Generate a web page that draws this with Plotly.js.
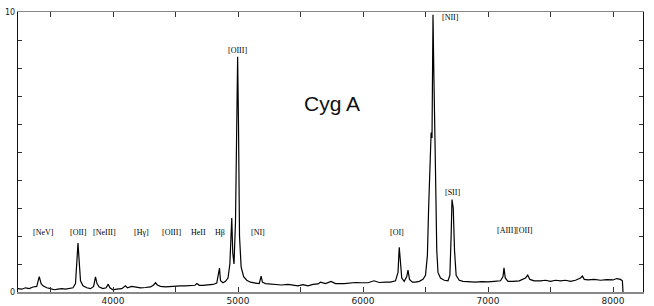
<!DOCTYPE html>
<html>
<head>
<meta charset="utf-8">
<script src="https://cdn.plot.ly/plotly-3.0.1.min.js"></script>
<style>html,body{margin:0;padding:0;background:#fff}#chart{width:654px;height:306px}</style>
</head>
<body>
<div id="chart"></div>
<script>
// Wavelength (Angstrom) and relative flux
const wavelength = [3240,3270,3300,3330,3360,3390,3410,3425,3440,3470,3500,3530,3560,3590,3620,3650,3680,3700,3712,3720,3728,3740,3760,3790,3820,3845,3860,3872,3890,3920,3945,3962,3975,4000,4030,4070,4100,4115,4150,4180,4220,4260,4300,4325,4340,4355,4380,4420,4460,4500,4540,4580,4620,4655,4672,4690,4720,4760,4800,4830,4845,4852,4860,4880,4900,4920,4935,4945,4950,4958,4968,4980,4990,4997,5004,5012,5025,5045,5070,5100,5140,5170,5185,5195,5220,5260,5300,5350,5400,5440,5480,5520,5560,5600,5640,5660,5700,5744,5780,5850,5900,5940,5990,6040,6088,6130,6180,6220,6260,6280,6290,6298,6310,6330,6350,6360,6372,6395,6420,6450,6480,6500,6515,6525,6535,6545,6552,6560,6566,6572,6580,6590,6600,6620,6650,6680,6695,6705,6712,6722,6732,6745,6770,6800,6850,6900,6950,7000,7050,7100,7120,7128,7138,7160,7200,7250,7300,7318,7335,7370,7420,7460,7500,7540,7580,7620,7660,7700,7740,7755,7770,7800,7850,7900,7950,8000,8030,8060,8075,8080];
const flux = [0.12,0.10,0.15,0.12,0.18,0.20,0.55,0.30,0.22,0.15,0.12,0.08,0.10,0.12,0.10,0.12,0.15,0.30,1.0,1.75,1.2,0.40,0.22,0.15,0.12,0.20,0.54,0.30,0.18,0.12,0.15,0.28,0.15,0.08,0.10,0.12,0.22,0.15,0.20,0.18,0.15,0.16,0.18,0.25,0.33,0.25,0.20,0.18,0.20,0.20,0.22,0.22,0.22,0.24,0.30,0.24,0.24,0.25,0.27,0.32,0.80,0.85,0.40,0.33,0.38,0.50,1.0,2.4,2.64,1.4,1.0,2.5,5.5,8.4,6.0,2.0,0.9,0.55,0.42,0.35,0.32,0.30,0.57,0.35,0.30,0.28,0.28,0.25,0.27,0.24,0.22,0.26,0.22,0.27,0.29,0.35,0.30,0.38,0.30,0.30,0.32,0.34,0.33,0.33,0.40,0.34,0.35,0.35,0.40,0.7,1.6,1.2,0.5,0.38,0.55,0.78,0.45,0.35,0.35,0.38,0.45,0.6,1.3,3.0,4.5,5.7,5.5,9.9,8.0,5.5,4.3,1.5,0.7,0.5,0.42,0.40,0.6,2.0,3.3,3.0,1.5,0.6,0.42,0.38,0.36,0.35,0.37,0.36,0.38,0.40,0.55,0.86,0.50,0.38,0.38,0.40,0.50,0.60,0.45,0.40,0.40,0.42,0.38,0.42,0.40,0.42,0.38,0.42,0.50,0.57,0.45,0.43,0.45,0.42,0.44,0.43,0.48,0.45,0.40,0.0];

// Line identifications
const lineLabels = ['[NeV]','[OII]','[NeIII]','[Hγ]','[OIII]','HeII','Hβ','[NI]','[OIII]','[OI]','[NII]','[SII]','[AIII][OII]'];
const labelX = [3440,3720,3928,4224,4464,4680,4856,5160,4992,6272,6696,6712,7216];
const labelY = [2.14,2.14,2.14,2.14,2.14,2.14,2.14,2.14,8.64,2.14,9.8,3.57,2.18];

const xTicks = [3500,4000,4500,5000,5500,6000,6500,7000,7500,8000];
const xTickText = ['','4000','','5000','','6000','','7000','','8000'];
const yTicks = [0,1,2,3,4,5,6,7,8,9,10];
const yTickText = ['0','','','','','','','','','','10'];

const annotations = lineLabels.map((t,i)=>({
  x: labelX[i], y: labelY[i], text: t, showarrow:false,
  xanchor:'center', yanchor:'middle',
  font:{family:'Liberation Serif', size:8, color:'#000'}
}));
annotations.push({x:5752, y:6.75, text:'Cyg A', showarrow:false,
  font:{family:'Liberation Sans', size:21, color:'#111'}});

Plotly.newPlot('chart',[{
  x: wavelength, y: flux, type:'scatter', mode:'lines',
  line:{color:'#000', width:1.2}, hoverinfo:'skip'
}],{
  width:654, height:306,
  margin:{l:18,r:11,t:12,b:14,pad:0},
  paper_bgcolor:'#fff', plot_bgcolor:'#fff',
  showlegend:false,
  xaxis:{range:[3240,8240], tickvals:xTicks, ticktext:xTickText, ticks:'inside', ticklen:5, tickcolor:'#333',
    showline:true, linecolor:'#888', linewidth:1.5, mirror:'ticks', showgrid:false, zeroline:false,
    tickfont:{family:'DejaVu Sans', size:9, color:'#222'}},
  yaxis:{range:[0,10], tickvals:yTicks, ticktext:yTickText, ticks:'inside', ticklen:4, tickcolor:'#333',
    showline:true, linecolor:'#111', linewidth:1.2, mirror:'ticks', showgrid:false, zeroline:false,
    tickfont:{family:'DejaVu Sans', size:8, color:'#222'}},
  annotations: annotations
},{staticPlot:true});
</script>
</body>
</html>
